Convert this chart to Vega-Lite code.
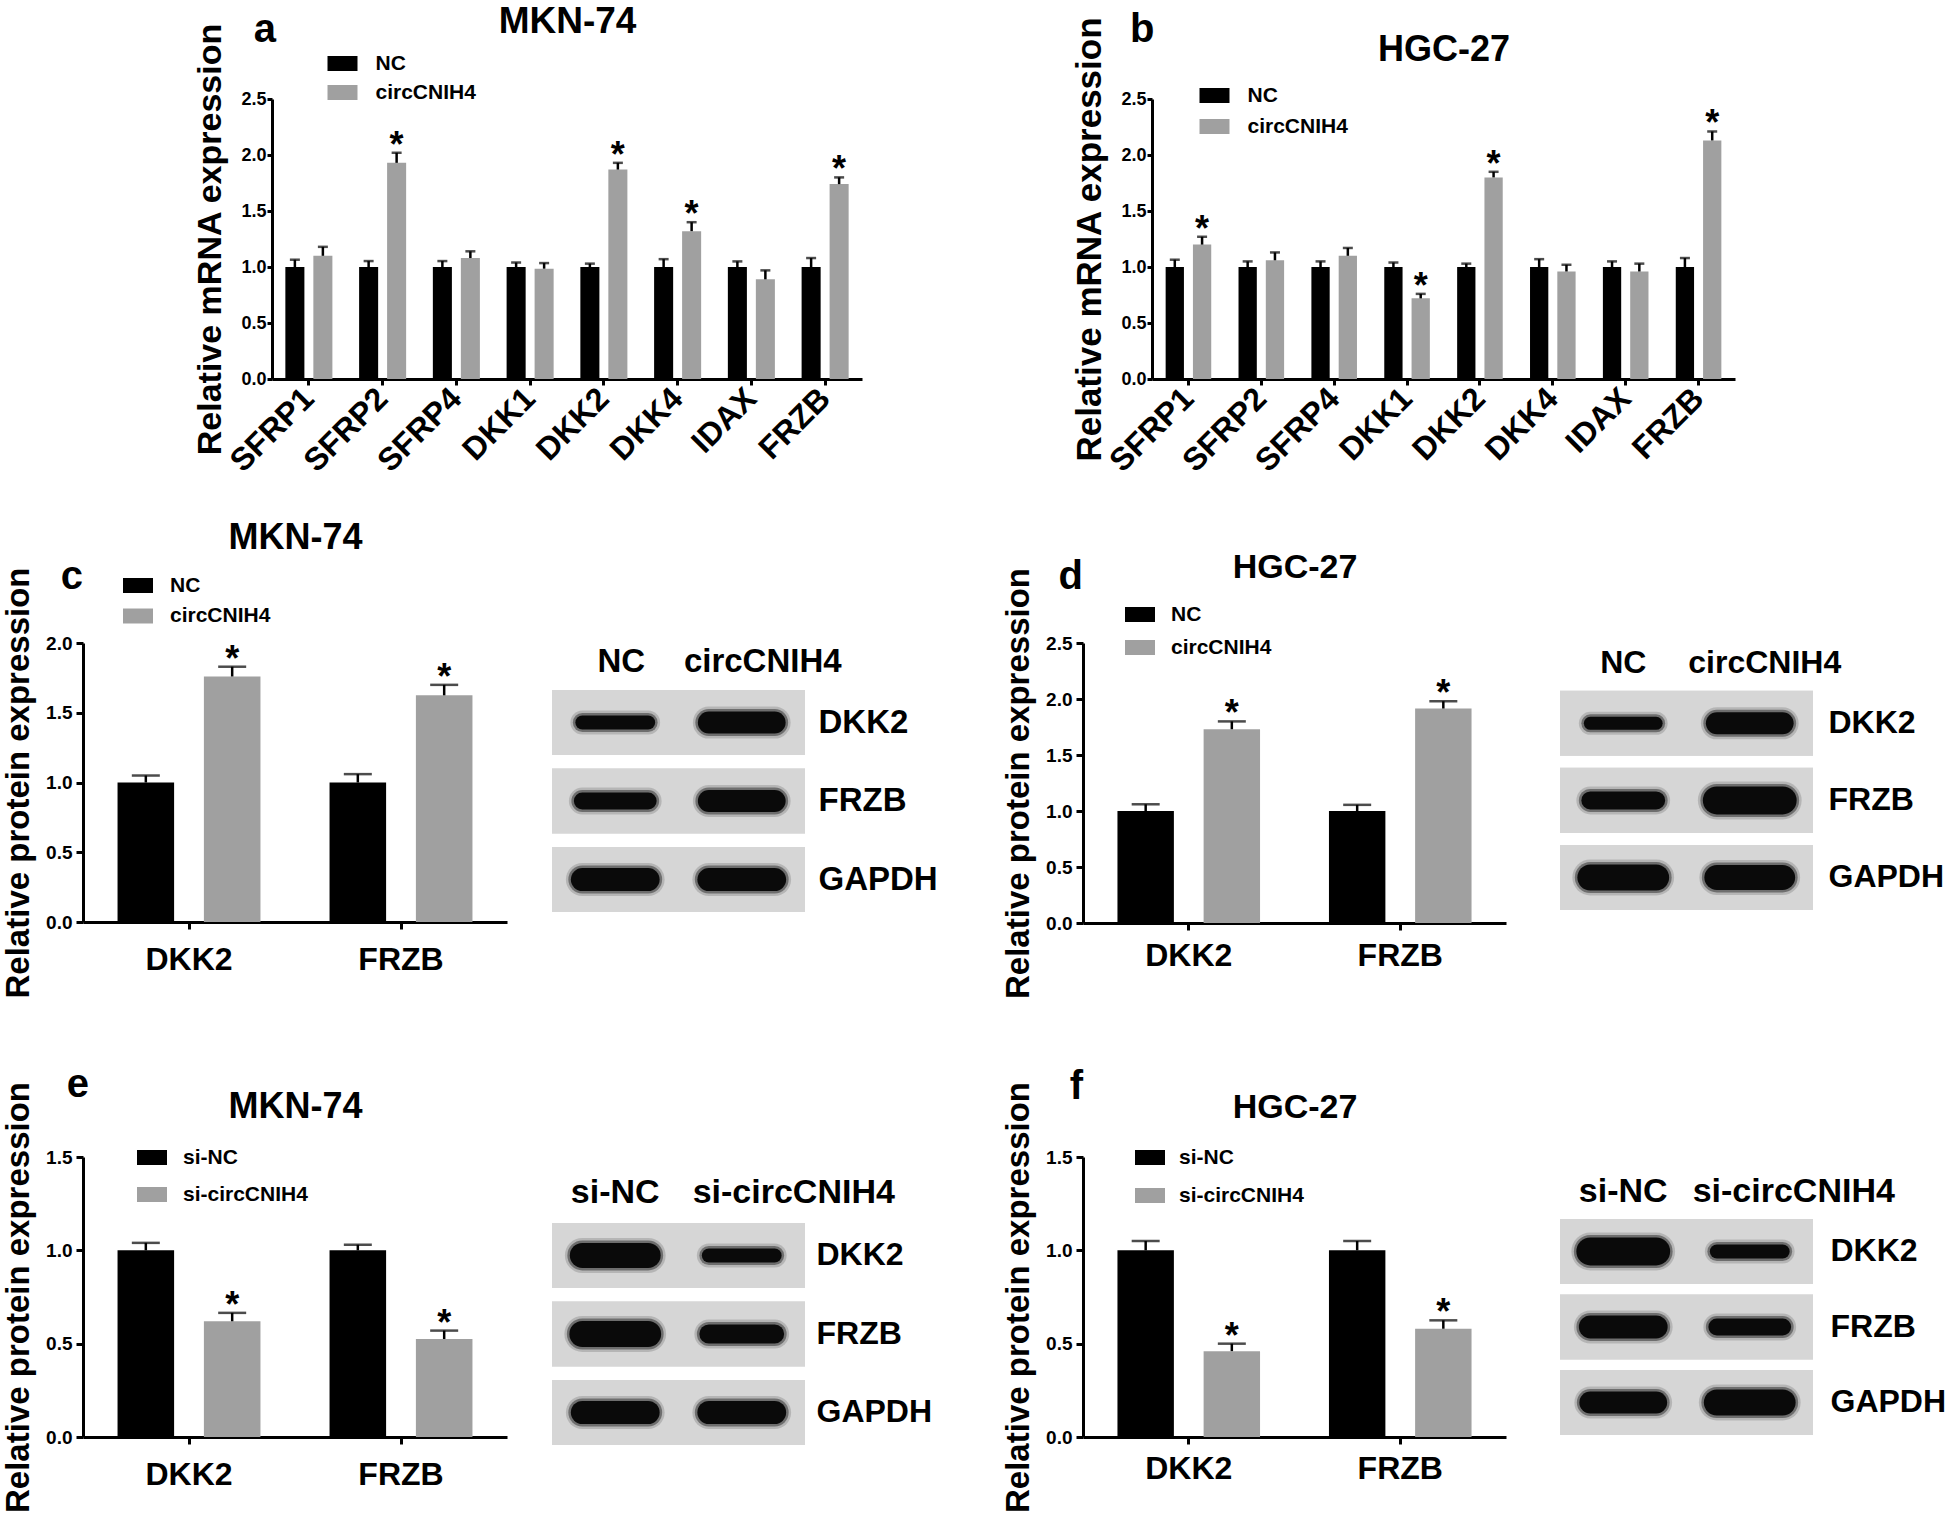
{
"$schema": "https://vega.github.io/schema/vega-lite/v6.json",
"padding": {"left": 0, "top": 2, "right": 0, "bottom": 0},
"background": "white",
"spacing": 0,
"bounds": "full",
"resolve": {"scale": {"color": "independent", "xOffset": "independent", "strokeWidth": "independent"}, "legend": {"color": "independent", "strokeWidth": "independent"}},
"datasets": {
"mknMrna": [
{"gene":"SFRP1","group":"NC","value":1.0,"err":1.065,"sig":""},
{"gene":"SFRP1","group":"circCNIH4","value":1.10,"err":1.18,"sig":""},
{"gene":"SFRP2","group":"NC","value":1.0,"err":1.053,"sig":""},
{"gene":"SFRP2","group":"circCNIH4","value":1.93,"err":2.02,"sig":"*"},
{"gene":"SFRP4","group":"NC","value":1.0,"err":1.053,"sig":""},
{"gene":"SFRP4","group":"circCNIH4","value":1.08,"err":1.14,"sig":""},
{"gene":"DKK1","group":"NC","value":1.0,"err":1.04,"sig":""},
{"gene":"DKK1","group":"circCNIH4","value":0.985,"err":1.035,"sig":""},
{"gene":"DKK2","group":"NC","value":1.0,"err":1.03,"sig":""},
{"gene":"DKK2","group":"circCNIH4","value":1.87,"err":1.93,"sig":"*"},
{"gene":"DKK4","group":"NC","value":1.0,"err":1.07,"sig":""},
{"gene":"DKK4","group":"circCNIH4","value":1.32,"err":1.40,"sig":"*"},
{"gene":"IDAX","group":"NC","value":1.0,"err":1.05,"sig":""},
{"gene":"IDAX","group":"circCNIH4","value":0.89,"err":0.97,"sig":""},
{"gene":"FRZB","group":"NC","value":1.0,"err":1.08,"sig":""},
{"gene":"FRZB","group":"circCNIH4","value":1.74,"err":1.80,"sig":"*"}
],
"hgcMrna": [
{"gene":"SFRP1","group":"NC","value":1.0,"err":1.065,"sig":""},
{"gene":"SFRP1","group":"circCNIH4","value":1.20,"err":1.27,"sig":"*"},
{"gene":"SFRP2","group":"NC","value":1.0,"err":1.05,"sig":""},
{"gene":"SFRP2","group":"circCNIH4","value":1.06,"err":1.13,"sig":""},
{"gene":"SFRP4","group":"NC","value":1.0,"err":1.05,"sig":""},
{"gene":"SFRP4","group":"circCNIH4","value":1.10,"err":1.17,"sig":""},
{"gene":"DKK1","group":"NC","value":1.0,"err":1.04,"sig":""},
{"gene":"DKK1","group":"circCNIH4","value":0.72,"err":0.76,"sig":"*"},
{"gene":"DKK2","group":"NC","value":1.0,"err":1.03,"sig":""},
{"gene":"DKK2","group":"circCNIH4","value":1.80,"err":1.85,"sig":"*"},
{"gene":"DKK4","group":"NC","value":1.0,"err":1.07,"sig":""},
{"gene":"DKK4","group":"circCNIH4","value":0.96,"err":1.02,"sig":""},
{"gene":"IDAX","group":"NC","value":1.0,"err":1.05,"sig":""},
{"gene":"IDAX","group":"circCNIH4","value":0.96,"err":1.03,"sig":""},
{"gene":"FRZB","group":"NC","value":1.0,"err":1.08,"sig":""},
{"gene":"FRZB","group":"circCNIH4","value":2.13,"err":2.21,"sig":"*"}
],
"mknOE": [
{"gene":"DKK2","group":"NC","value":1.0,"err":1.05,"sig":""},
{"gene":"DKK2","group":"circCNIH4","value":1.76,"err":1.83,"sig":"*"},
{"gene":"FRZB","group":"NC","value":1.0,"err":1.06,"sig":""},
{"gene":"FRZB","group":"circCNIH4","value":1.625,"err":1.70,"sig":"*"}
],
"hgcOE": [
{"gene":"DKK2","group":"NC","value":1.0,"err":1.06,"sig":""},
{"gene":"DKK2","group":"circCNIH4","value":1.73,"err":1.80,"sig":"*"},
{"gene":"FRZB","group":"NC","value":1.0,"err":1.055,"sig":""},
{"gene":"FRZB","group":"circCNIH4","value":1.915,"err":1.98,"sig":"*"}
],
"mknKD": [
{"gene":"DKK2","group":"si-NC","value":1.0,"err":1.04,"sig":""},
{"gene":"DKK2","group":"si-circCNIH4","value":0.62,"err":0.665,"sig":"*"},
{"gene":"FRZB","group":"si-NC","value":1.0,"err":1.03,"sig":""},
{"gene":"FRZB","group":"si-circCNIH4","value":0.525,"err":0.57,"sig":"*"}
],
"hgcKD": [
{"gene":"DKK2","group":"si-NC","value":1.0,"err":1.05,"sig":""},
{"gene":"DKK2","group":"si-circCNIH4","value":0.46,"err":0.50,"sig":"*"},
{"gene":"FRZB","group":"si-NC","value":1.0,"err":1.05,"sig":""},
{"gene":"FRZB","group":"si-circCNIH4","value":0.58,"err":0.625,"sig":"*"}
],
"blotC": [
{"lane":"NC","protein":"DKK2","intensity":0.7},
{"lane":"circCNIH4","protein":"DKK2","intensity":1.1},
{"lane":"NC","protein":"FRZB","intensity":0.85},
{"lane":"circCNIH4","protein":"FRZB","intensity":1.1},
{"lane":"NC","protein":"GAPDH","intensity":1.15},
{"lane":"circCNIH4","protein":"GAPDH","intensity":1.15}
],
"blotD": [
{"lane":"NC","protein":"DKK2","intensity":0.65},
{"lane":"circCNIH4","protein":"DKK2","intensity":1.1},
{"lane":"NC","protein":"FRZB","intensity":0.9},
{"lane":"circCNIH4","protein":"FRZB","intensity":1.4},
{"lane":"NC","protein":"GAPDH","intensity":1.3},
{"lane":"circCNIH4","protein":"GAPDH","intensity":1.25}
],
"blotE": [
{"lane":"si-NC","protein":"DKK2","intensity":1.25},
{"lane":"si-circCNIH4","protein":"DKK2","intensity":0.7},
{"lane":"si-NC","protein":"FRZB","intensity":1.3},
{"lane":"si-circCNIH4","protein":"FRZB","intensity":0.95},
{"lane":"si-NC","protein":"GAPDH","intensity":1.15},
{"lane":"si-circCNIH4","protein":"GAPDH","intensity":1.15}
],
"blotF": [
{"lane":"si-NC","protein":"DKK2","intensity":1.4},
{"lane":"si-circCNIH4","protein":"DKK2","intensity":0.7},
{"lane":"si-NC","protein":"FRZB","intensity":1.15},
{"lane":"si-circCNIH4","protein":"FRZB","intensity":0.85},
{"lane":"si-NC","protein":"GAPDH","intensity":1.1},
{"lane":"si-circCNIH4","protein":"GAPDH","intensity":1.3}
],
"none": []
},
"vconcat": [
{
"hconcat": [
{"width":271.5,"height":419.6,"data":{"name":"none"},"mark":"point","encoding":{},
 "title":{"text":"a","anchor":"end","offset":17,"dx":4.5,"fontSize":40,"baseline":"alphabetic"}},
{"width":590,"height":280,"data":{"name":"mknMrna"},
 "encoding":{
  "x":{"field":"gene","type":"nominal","scale":{"domain":["SFRP1","SFRP2","SFRP4","DKK1","DKK2","DKK4","IDAX","FRZB"],"paddingInner":0,"paddingOuter":0},"axis":null},
  "xOffset":{"field":"group","type":"nominal","scale":{"domain":["NC","circCNIH4"],"paddingInner":0.32,"paddingOuter":0.477}}
 },
 "layer":[
  {"mark":{"type":"bar"},
   "encoding":{
    "x":{"field":"gene","type":"nominal","scale":{"domain":["SFRP1","SFRP2","SFRP4","DKK1","DKK2","DKK4","IDAX","FRZB"],"paddingInner":0,"paddingOuter":0},
         "axis":{"title":null,"labelAngle":-45,"labelAlign":"right","labelBaseline":"middle","labelFontSize":32,"tickSize":6,"labelPadding":8}},
    "y":{"field":"value","type":"quantitative","scale":{"domain":[0,2.5],"nice":false},
         "axis":{"title":"Relative mRNA expression","titleFontSize":34,"titlePadding":13,"values":[0,0.5,1,1.5,2,2.5],"format":".1f","labelFontSize":18,"tickSize":5,"labelPadding":1}},
    "color":{"field":"group","type":"nominal","scale":{"domain":["NC","circCNIH4"],"range":["#000000","#a0a0a0"]},
         "legend":{"orient":"none","legendX":55.5,"legendY":-50.5,"title":null,"rowPadding":4,"labelOffset":18,"symbolType":"M-1,-0.5H1V0.5H-1Z","symbolSize":900,"symbolStrokeWidth":0}}
   }},
  {"mark":{"type":"rule","color":"#000000","strokeWidth":2.5},
   "encoding":{"y":{"field":"value","type":"quantitative","scale":{"domain":[0,2.5],"nice":false},
         "axis":{"title":"Relative mRNA expression","titleFontSize":34,"titlePadding":13,"values":[0,0.5,1,1.5,2,2.5],"format":".1f","labelFontSize":18,"tickSize":5,"labelPadding":1}},"y2":{"field":"err"}}},
  {"mark":{"type":"tick","color":"#000000","thickness":2.5,"size":10,"orient":"horizontal"},
   "encoding":{"y":{"field":"err","type":"quantitative","scale":{"domain":[0,2.5],"nice":false},
         "axis":{"title":"Relative mRNA expression","titleFontSize":34,"titlePadding":13,"values":[0,0.5,1,1.5,2,2.5],"format":".1f","labelFontSize":18,"tickSize":5,"labelPadding":1}}}},
  {"transform":[{"filter":"datum.sig == '*'"}],
   "mark":{"type":"text","fontSize":36,"fontWeight":"bold","baseline":"alphabetic","align":"center","dy":4,"color":"#000000"},
   "encoding":{
    "x":{"field":"gene","type":"nominal","scale":{"domain":["SFRP1","SFRP2","SFRP4","DKK1","DKK2","DKK4","IDAX","FRZB"],"paddingInner":0,"paddingOuter":0},
         "axis":{"orient":"top","title":"MKN-74","titleFontSize":37,"titlePadding":67,"titleBaseline":"alphabetic","labels":false,"ticks":false,"domain":false}},
    "y":{"field":"err","type":"quantitative","scale":{"domain":[0,2.5],"nice":false},
         "axis":{"title":"Relative mRNA expression","titleFontSize":34,"titlePadding":13,"values":[0,0.5,1,1.5,2,2.5],"format":".1f","labelFontSize":18,"tickSize":5,"labelPadding":1}},
    "text":{"field":"sig"}}}
 ],
 "resolve":{"axis":{"x":"independent"}}
},
{"width":290,"height":1,"data":{"name":"none"},"mark":"point","encoding":{},
 "title":{"text":"b","anchor":"end","offset":17,"dx":2.5,"fontSize":40,"baseline":"alphabetic"}},
{"width":583,"height":280,"data":{"name":"hgcMrna"},
 "encoding":{
  "x":{"field":"gene","type":"nominal","scale":{"domain":["SFRP1","SFRP2","SFRP4","DKK1","DKK2","DKK4","IDAX","FRZB"],"paddingInner":0,"paddingOuter":0},"axis":null},
  "xOffset":{"field":"group","type":"nominal","scale":{"domain":["NC","circCNIH4"],"paddingInner":0.33,"paddingOuter":0.5}}
 },
 "layer":[
  {"mark":{"type":"bar"},
   "encoding":{
    "x":{"field":"gene","type":"nominal","scale":{"domain":["SFRP1","SFRP2","SFRP4","DKK1","DKK2","DKK4","IDAX","FRZB"],"paddingInner":0,"paddingOuter":0},
         "axis":{"title":null,"labelAngle":-45,"labelAlign":"right","labelBaseline":"middle","labelFontSize":32,"tickSize":6,"labelPadding":8}},
    "y":{"field":"value","type":"quantitative","scale":{"domain":[0,2.5],"nice":false},
         "axis":{"title":"Relative mRNA expression","titleFontSize":35,"titlePadding":13,"values":[0,0.5,1,1.5,2,2.5],"format":".1f","labelFontSize":18,"tickSize":5,"labelPadding":1}},
    "color":{"field":"group","type":"nominal","scale":{"domain":["NC","circCNIH4"],"range":["#000000","#a0a0a0"]},
         "legend":{"orient":"none","legendX":47.5,"legendY":-18.5,"title":null,"rowPadding":6,"labelOffset":18,"symbolType":"M-1,-0.5H1V0.5H-1Z","symbolSize":900,"symbolStrokeWidth":0}}
   }},
  {"mark":{"type":"rule","color":"#000000","strokeWidth":2.5},
   "encoding":{"y":{"field":"value","type":"quantitative","scale":{"domain":[0,2.5],"nice":false},
         "axis":{"title":"Relative mRNA expression","titleFontSize":35,"titlePadding":13,"values":[0,0.5,1,1.5,2,2.5],"format":".1f","labelFontSize":18,"tickSize":5,"labelPadding":1}},"y2":{"field":"err"}}},
  {"mark":{"type":"tick","color":"#000000","thickness":2.5,"size":10,"orient":"horizontal"},
   "encoding":{"y":{"field":"err","type":"quantitative","scale":{"domain":[0,2.5],"nice":false},
         "axis":{"title":"Relative mRNA expression","titleFontSize":35,"titlePadding":13,"values":[0,0.5,1,1.5,2,2.5],"format":".1f","labelFontSize":18,"tickSize":5,"labelPadding":1}}}},
  {"transform":[{"filter":"datum.sig == '*'"}],
   "mark":{"type":"text","fontSize":36,"fontWeight":"bold","baseline":"alphabetic","align":"center","dy":4,"color":"#000000"},
   "encoding":{
    "x":{"field":"gene","type":"nominal","scale":{"domain":["SFRP1","SFRP2","SFRP4","DKK1","DKK2","DKK4","IDAX","FRZB"],"paddingInner":0,"paddingOuter":0},
         "axis":{"orient":"top","title":"HGC-27","titleFontSize":36,"titlePadding":39,"titleBaseline":"alphabetic","labels":false,"ticks":false,"domain":false}},
    "y":{"field":"err","type":"quantitative","scale":{"domain":[0,2.5],"nice":false},
         "axis":{"title":"Relative mRNA expression","titleFontSize":35,"titlePadding":13,"values":[0,0.5,1,1.5,2,2.5],"format":".1f","labelFontSize":18,"tickSize":5,"labelPadding":1}},
    "text":{"field":"sig"}}}
 ],
 "resolve":{"axis":{"x":"independent"}}
}
],
"spacing": 0,
"bounds": "flush",
"resolve": {"scale": {"color": "independent", "xOffset": "independent", "strokeWidth": "independent"}, "legend": {"color": "independent", "strokeWidth": "independent"}}
},
{
"columns": 8,
"spacing": 0,
"bounds": "flush",
"align": "each",
"resolve": {"scale": {"color": "independent", "xOffset": "independent", "strokeWidth": "independent"}, "legend": {"color": "independent", "strokeWidth": "independent"}},
"concat": [
{"width":83,"height":514,"data":{"name":"none"},"mark":"point","encoding":{},
 "title":{"text":"c","anchor":"end","offset":14,"dx":0,"fontSize":40,"baseline":"alphabetic"}},
{"width":424,"height":279,"data":{"name":"mknOE"},
 "encoding":{
  "x":{"field":"gene","type":"nominal","scale":{"domain":["DKK2","FRZB"],"paddingInner":0,"paddingOuter":0},"axis":null},
  "xOffset":{"field":"group","type":"nominal","scale":{"domain":["NC","circCNIH4"],"paddingInner":0.345,"paddingOuter":0.4}}
 },
 "layer":[
  {"mark":{"type":"bar"},
   "encoding":{
    "x":{"field":"gene","type":"nominal","scale":{"domain":["DKK2","FRZB"],"paddingInner":0,"paddingOuter":0},
         "axis":{"title":null,"labelAngle":0,"labelFontSize":32,"tickSize":7,"labelPadding":15}},
    "y":{"field":"value","type":"quantitative","scale":{"domain":[0,2],"nice":false},
         "axis":{"title":"Relative protein expression","titleFontSize":33,"titlePadding":10,"values":[0,0.5,1,1.5,2],"format":".1f","labelFontSize":19,"tickSize":7,"labelPadding":4}},
    "color":{"field":"group","type":"nominal","scale":{"domain":["NC","circCNIH4"],"range":["#000000","#a0a0a0"]},
         "legend":{"orient":"none","legendX":40,"legendY":-72.5,"title":null,"rowPadding":5.5,"labelOffset":17,"symbolType":"M-1,-0.5H1V0.5H-1Z","symbolSize":900,"symbolStrokeWidth":0}}
   }},
  {"mark":{"type":"rule","color":"#000000","strokeWidth":2.5},
   "encoding":{"y":{"field":"value","type":"quantitative","scale":{"domain":[0,2],"nice":false},
         "axis":{"title":"Relative protein expression","titleFontSize":33,"titlePadding":10,"values":[0,0.5,1,1.5,2],"format":".1f","labelFontSize":19,"tickSize":7,"labelPadding":4}},"y2":{"field":"err"}}},
  {"mark":{"type":"tick","color":"#000000","thickness":2.5,"size":28,"orient":"horizontal"},
   "encoding":{"y":{"field":"err","type":"quantitative","scale":{"domain":[0,2],"nice":false},
         "axis":{"title":"Relative protein expression","titleFontSize":33,"titlePadding":10,"values":[0,0.5,1,1.5,2],"format":".1f","labelFontSize":19,"tickSize":7,"labelPadding":4}}}},
  {"transform":[{"filter":"datum.sig == '*'"}],
   "mark":{"type":"text","fontSize":36,"fontWeight":"bold","baseline":"alphabetic","align":"center","dy":4,"color":"#000000"},
   "encoding":{
    "x":{"field":"gene","type":"nominal","scale":{"domain":["DKK2","FRZB"],"paddingInner":0,"paddingOuter":0},
         "axis":{"orient":"top","title":"MKN-74","titleFontSize":36,"titlePadding":95,"titleBaseline":"alphabetic","labels":false,"ticks":false,"domain":false}},
    "y":{"field":"err","type":"quantitative","scale":{"domain":[0,2],"nice":false},
         "axis":{"title":"Relative protein expression","titleFontSize":33,"titlePadding":10,"values":[0,0.5,1,1.5,2],"format":".1f","labelFontSize":19,"tickSize":7,"labelPadding":4}},
    "text":{"field":"sig"}}}
 ],
 "resolve":{"axis":{"x":"independent"}}
},
{"width":45,"height":1,"data":{"name":"none"},"mark":"point","encoding":{}},
{"width":253,"height":269,"data":{"name":"blotC"},
 "encoding":{"y":{"field":"protein","type":"nominal","scale":{"domain":["DKK2","FRZB","GAPDH"],"paddingInner":0.172,"paddingOuter":0.3,"align":1},
   "axis":{"orient":"right","title":null,"ticks":false,"tickSize":0,"domain":false,"labelFontSize":33,"labelPadding":13,"labelAlign":"left","labelBaseline":"middle"}}},
 "layer":[
  {"mark":{"type":"rect","color":"#d6d6d6"}},
  {"mark":{"type":"rule","color":"#6a6a6a","opacity":0.3,"strokeCap":"round"},
   "encoding":{"x":{"field":"lane","type":"nominal","bandPosition":0.24,"scale":{"domain":["NC","circCNIH4"],"paddingInner":0,"paddingOuter":0},
     "axis":{"orient":"top","title":null,"ticks":false,"tickSize":0,"domain":false,"labelAngle":0,"labelAlign":"center","labelFontSize":33,"labelPadding":-28,"labelBaseline":"alphabetic","labelOffset":{"condition":{"test":"datum.value === 'circCNIH4'","value":21},"value":6}}},
    "x2":{"field":"lane","bandPosition":0.76},
    "strokeWidth":{"field":"intensity","type":"quantitative","scale":{"domain":[0,2],"range":[10,50]},"legend":null}}},
  {"mark":{"type":"rule","color":"#333333","opacity":0.55,"strokeCap":"round"},
   "encoding":{"x":{"field":"lane","type":"nominal","bandPosition":0.24,"scale":{"domain":["NC","circCNIH4"],"paddingInner":0,"paddingOuter":0},
     "axis":{"orient":"top","title":null,"ticks":false,"tickSize":0,"domain":false,"labelAngle":0,"labelAlign":"center","labelFontSize":33,"labelPadding":-28,"labelBaseline":"alphabetic","labelOffset":{"condition":{"test":"datum.value === 'circCNIH4'","value":21},"value":6}}},
    "x2":{"field":"lane","bandPosition":0.76},
    "strokeWidth":{"field":"intensity","type":"quantitative","scale":{"domain":[0,2],"range":[5,45]},"legend":null}}},
  {"mark":{"type":"rule","color":"#0a0a0a","strokeCap":"round"},
   "encoding":{"x":{"field":"lane","type":"nominal","bandPosition":0.24,"scale":{"domain":["NC","circCNIH4"],"paddingInner":0,"paddingOuter":0},
     "axis":{"orient":"top","title":null,"ticks":false,"tickSize":0,"domain":false,"labelAngle":0,"labelAlign":"center","labelFontSize":33,"labelPadding":-28,"labelBaseline":"alphabetic","labelOffset":{"condition":{"test":"datum.value === 'circCNIH4'","value":21},"value":6}}},
    "x2":{"field":"lane","bandPosition":0.76},
    "strokeWidth":{"field":"intensity","type":"quantitative","scale":{"domain":[0,2],"range":[0,40]},"legend":null}}}
 ],
 "resolve":{"scale":{"strokeWidth":"independent"}}
},
{"width":278,"height":1,"data":{"name":"none"},"mark":"point","encoding":{},
 "title":{"text":"d","anchor":"end","offset":14,"dx":0,"fontSize":40,"baseline":"alphabetic"}},
{"width":423,"height":280,"data":{"name":"hgcOE"},
 "encoding":{
  "x":{"field":"gene","type":"nominal","scale":{"domain":["DKK2","FRZB"],"paddingInner":0,"paddingOuter":0},"axis":null},
  "xOffset":{"field":"group","type":"nominal","scale":{"domain":["NC","circCNIH4"],"paddingInner":0.345,"paddingOuter":0.4}}
 },
 "layer":[
  {"mark":{"type":"bar"},
   "encoding":{
    "x":{"field":"gene","type":"nominal","scale":{"domain":["DKK2","FRZB"],"paddingInner":0,"paddingOuter":0},
         "axis":{"title":null,"labelAngle":0,"labelFontSize":32,"tickSize":7,"labelPadding":10}},
    "y":{"field":"value","type":"quantitative","scale":{"domain":[0,2.5],"nice":false},
         "axis":{"title":"Relative protein expression","titleFontSize":33,"titlePadding":10,"values":[0,0.5,1,1.5,2,2.5],"format":".1f","labelFontSize":19,"tickSize":7,"labelPadding":4}},
    "color":{"field":"group","type":"nominal","scale":{"domain":["NC","circCNIH4"],"range":["#000000","#a0a0a0"]},
         "legend":{"orient":"none","legendX":42,"legendY":-43.5,"title":null,"rowPadding":8,"labelOffset":16,"symbolType":"M-1,-0.5H1V0.5H-1Z","symbolSize":900,"symbolStrokeWidth":0}}
   }},
  {"mark":{"type":"rule","color":"#000000","strokeWidth":2.5},
   "encoding":{"y":{"field":"value","type":"quantitative","scale":{"domain":[0,2.5],"nice":false},
         "axis":{"title":"Relative protein expression","titleFontSize":33,"titlePadding":10,"values":[0,0.5,1,1.5,2,2.5],"format":".1f","labelFontSize":19,"tickSize":7,"labelPadding":4}},"y2":{"field":"err"}}},
  {"mark":{"type":"tick","color":"#000000","thickness":2.5,"size":28,"orient":"horizontal"},
   "encoding":{"y":{"field":"err","type":"quantitative","scale":{"domain":[0,2.5],"nice":false},
         "axis":{"title":"Relative protein expression","titleFontSize":33,"titlePadding":10,"values":[0,0.5,1,1.5,2,2.5],"format":".1f","labelFontSize":19,"tickSize":7,"labelPadding":4}}}},
  {"transform":[{"filter":"datum.sig == '*'"}],
   "mark":{"type":"text","fontSize":36,"fontWeight":"bold","baseline":"alphabetic","align":"center","dy":4,"color":"#000000"},
   "encoding":{
    "x":{"field":"gene","type":"nominal","scale":{"domain":["DKK2","FRZB"],"paddingInner":0,"paddingOuter":0},
         "axis":{"orient":"top","title":"HGC-27","titleFontSize":34,"titlePadding":66,"titleBaseline":"alphabetic","labels":false,"ticks":false,"domain":false}},
    "y":{"field":"err","type":"quantitative","scale":{"domain":[0,2.5],"nice":false},
         "axis":{"title":"Relative protein expression","titleFontSize":33,"titlePadding":10,"values":[0,0.5,1,1.5,2,2.5],"format":".1f","labelFontSize":19,"tickSize":7,"labelPadding":4}},
    "text":{"field":"sig"}}}
 ],
 "resolve":{"axis":{"x":"independent"}}
},
{"width":54,"height":1,"data":{"name":"none"},"mark":"point","encoding":{}},
{"width":253,"height":267,"data":{"name":"blotD"},
 "encoding":{"y":{"field":"protein","type":"nominal","scale":{"domain":["DKK2","FRZB","GAPDH"],"paddingInner":0.156,"paddingOuter":0.31,"align":1},
   "axis":{"orient":"right","title":null,"ticks":false,"tickSize":0,"domain":false,"labelFontSize":32,"labelPadding":15,"labelAlign":"left","labelBaseline":"middle"}}},
 "layer":[
  {"mark":{"type":"rect","color":"#d6d6d6"}},
  {"mark":{"type":"rule","color":"#6a6a6a","opacity":0.3,"strokeCap":"round"},
   "encoding":{"x":{"field":"lane","type":"nominal","bandPosition":0.24,"scale":{"domain":["NC","circCNIH4"],"paddingInner":0,"paddingOuter":0},
     "axis":{"orient":"top","title":null,"ticks":false,"tickSize":0,"domain":false,"labelAngle":0,"labelAlign":"center","labelFontSize":32,"labelPadding":-29,"labelBaseline":"alphabetic","labelOffset":{"condition":{"test":"datum.value === 'circCNIH4'","value":15},"value":0}}},
    "x2":{"field":"lane","bandPosition":0.76},
    "strokeWidth":{"field":"intensity","type":"quantitative","scale":{"domain":[0,2],"range":[10,50]},"legend":null}}},
  {"mark":{"type":"rule","color":"#333333","opacity":0.55,"strokeCap":"round"},
   "encoding":{"x":{"field":"lane","type":"nominal","bandPosition":0.24,"scale":{"domain":["NC","circCNIH4"],"paddingInner":0,"paddingOuter":0},
     "axis":{"orient":"top","title":null,"ticks":false,"tickSize":0,"domain":false,"labelAngle":0,"labelAlign":"center","labelFontSize":32,"labelPadding":-29,"labelBaseline":"alphabetic","labelOffset":{"condition":{"test":"datum.value === 'circCNIH4'","value":15},"value":0}}},
    "x2":{"field":"lane","bandPosition":0.76},
    "strokeWidth":{"field":"intensity","type":"quantitative","scale":{"domain":[0,2],"range":[5,45]},"legend":null}}},
  {"mark":{"type":"rule","color":"#0a0a0a","strokeCap":"round"},
   "encoding":{"x":{"field":"lane","type":"nominal","bandPosition":0.24,"scale":{"domain":["NC","circCNIH4"],"paddingInner":0,"paddingOuter":0},
     "axis":{"orient":"top","title":null,"ticks":false,"tickSize":0,"domain":false,"labelAngle":0,"labelAlign":"center","labelFontSize":32,"labelPadding":-29,"labelBaseline":"alphabetic","labelOffset":{"condition":{"test":"datum.value === 'circCNIH4'","value":15},"value":0}}},
    "x2":{"field":"lane","bandPosition":0.76},
    "strokeWidth":{"field":"intensity","type":"quantitative","scale":{"domain":[0,2],"range":[0,40]},"legend":null}}}
 ],
 "resolve":{"scale":{"strokeWidth":"independent"}}
},

{"width":83,"height":1,"data":{"name":"none"},"mark":"point","encoding":{},
 "title":{"text":"e","anchor":"end","offset":20,"dx":6,"fontSize":40,"baseline":"alphabetic"}},
{"width":424,"height":280,"data":{"name":"mknKD"},
 "encoding":{
  "x":{"field":"gene","type":"nominal","scale":{"domain":["DKK2","FRZB"],"paddingInner":0,"paddingOuter":0},"axis":null},
  "xOffset":{"field":"group","type":"nominal","scale":{"domain":["si-NC","si-circCNIH4"],"paddingInner":0.345,"paddingOuter":0.4}}
 },
 "layer":[
  {"mark":{"type":"bar"},
   "encoding":{
    "x":{"field":"gene","type":"nominal","scale":{"domain":["DKK2","FRZB"],"paddingInner":0,"paddingOuter":0},
         "axis":{"title":null,"labelAngle":0,"labelFontSize":32,"tickSize":7,"labelPadding":15}},
    "y":{"field":"value","type":"quantitative","scale":{"domain":[0,1.5],"nice":false},
         "axis":{"title":"Relative protein expression","titleFontSize":33,"titlePadding":10,"values":[0,0.5,1,1.5],"format":".1f","labelFontSize":19,"tickSize":7,"labelPadding":4}},
    "color":{"field":"group","type":"nominal","scale":{"domain":["si-NC","si-circCNIH4"],"range":["#000000","#a0a0a0"]},
         "legend":{"orient":"none","legendX":54,"legendY":-14.5,"title":null,"rowPadding":12,"labelOffset":16,"symbolType":"M-1,-0.5H1V0.5H-1Z","symbolSize":900,"symbolStrokeWidth":0}}
   }},
  {"mark":{"type":"rule","color":"#000000","strokeWidth":2.5},
   "encoding":{"y":{"field":"value","type":"quantitative","scale":{"domain":[0,1.5],"nice":false},
         "axis":{"title":"Relative protein expression","titleFontSize":33,"titlePadding":10,"values":[0,0.5,1,1.5],"format":".1f","labelFontSize":19,"tickSize":7,"labelPadding":4}},"y2":{"field":"err"}}},
  {"mark":{"type":"tick","color":"#000000","thickness":2.5,"size":28,"orient":"horizontal"},
   "encoding":{"y":{"field":"err","type":"quantitative","scale":{"domain":[0,1.5],"nice":false},
         "axis":{"title":"Relative protein expression","titleFontSize":33,"titlePadding":10,"values":[0,0.5,1,1.5],"format":".1f","labelFontSize":19,"tickSize":7,"labelPadding":4}}}},
  {"transform":[{"filter":"datum.sig == '*'"}],
   "mark":{"type":"text","fontSize":36,"fontWeight":"bold","baseline":"alphabetic","align":"center","dy":4,"color":"#000000"},
   "encoding":{
    "x":{"field":"gene","type":"nominal","scale":{"domain":["DKK2","FRZB"],"paddingInner":0,"paddingOuter":0},
         "axis":{"orient":"top","title":"MKN-74","titleFontSize":36,"titlePadding":40,"titleBaseline":"alphabetic","labels":false,"ticks":false,"domain":false}},
    "y":{"field":"err","type":"quantitative","scale":{"domain":[0,1.5],"nice":false},
         "axis":{"title":"Relative protein expression","titleFontSize":33,"titlePadding":10,"values":[0,0.5,1,1.5],"format":".1f","labelFontSize":19,"tickSize":7,"labelPadding":4}},
    "text":{"field":"sig"}}}
 ],
 "resolve":{"axis":{"x":"independent"}}
},
{"width":45,"height":1,"data":{"name":"none"},"mark":"point","encoding":{}},
{"width":253,"height":288,"data":{"name":"blotE"},
 "encoding":{"y":{"field":"protein","type":"nominal","scale":{"domain":["DKK2","FRZB","GAPDH"],"paddingInner":0.172,"paddingOuter":0.42,"align":1},
   "axis":{"orient":"right","title":null,"ticks":false,"tickSize":0,"domain":false,"labelFontSize":32,"labelPadding":11,"labelAlign":"left","labelBaseline":"middle"}}},
 "layer":[
  {"mark":{"type":"rect","color":"#d6d6d6"}},
  {"mark":{"type":"rule","color":"#6a6a6a","opacity":0.3,"strokeCap":"round"},
   "encoding":{"x":{"field":"lane","type":"nominal","bandPosition":0.24,"scale":{"domain":["si-NC","si-circCNIH4"],"paddingInner":0,"paddingOuter":0},
     "axis":{"orient":"top","title":null,"ticks":false,"tickSize":0,"domain":false,"labelAngle":0,"labelAlign":"center","labelFontSize":34,"labelPadding":-45,"labelBaseline":"alphabetic","labelOffset":{"condition":{"test":"datum.value === 'si-circCNIH4'","value":52},"value":0}}},
    "x2":{"field":"lane","bandPosition":0.76},
    "strokeWidth":{"field":"intensity","type":"quantitative","scale":{"domain":[0,2],"range":[10,50]},"legend":null}}},
  {"mark":{"type":"rule","color":"#333333","opacity":0.55,"strokeCap":"round"},
   "encoding":{"x":{"field":"lane","type":"nominal","bandPosition":0.24,"scale":{"domain":["si-NC","si-circCNIH4"],"paddingInner":0,"paddingOuter":0},
     "axis":{"orient":"top","title":null,"ticks":false,"tickSize":0,"domain":false,"labelAngle":0,"labelAlign":"center","labelFontSize":34,"labelPadding":-45,"labelBaseline":"alphabetic","labelOffset":{"condition":{"test":"datum.value === 'si-circCNIH4'","value":52},"value":0}}},
    "x2":{"field":"lane","bandPosition":0.76},
    "strokeWidth":{"field":"intensity","type":"quantitative","scale":{"domain":[0,2],"range":[5,45]},"legend":null}}},
  {"mark":{"type":"rule","color":"#0a0a0a","strokeCap":"round"},
   "encoding":{"x":{"field":"lane","type":"nominal","bandPosition":0.24,"scale":{"domain":["si-NC","si-circCNIH4"],"paddingInner":0,"paddingOuter":0},
     "axis":{"orient":"top","title":null,"ticks":false,"tickSize":0,"domain":false,"labelAngle":0,"labelAlign":"center","labelFontSize":34,"labelPadding":-45,"labelBaseline":"alphabetic","labelOffset":{"condition":{"test":"datum.value === 'si-circCNIH4'","value":52},"value":0}}},
    "x2":{"field":"lane","bandPosition":0.76},
    "strokeWidth":{"field":"intensity","type":"quantitative","scale":{"domain":[0,2],"range":[0,40]},"legend":null}}}
 ],
 "resolve":{"scale":{"strokeWidth":"independent"}}
},
{"width":278,"height":1,"data":{"name":"none"},"mark":"point","encoding":{},
 "title":{"text":"f","anchor":"end","offset":18,"dx":0,"fontSize":40,"baseline":"alphabetic"}},
{"width":423,"height":280,"data":{"name":"hgcKD"},
 "encoding":{
  "x":{"field":"gene","type":"nominal","scale":{"domain":["DKK2","FRZB"],"paddingInner":0,"paddingOuter":0},"axis":null},
  "xOffset":{"field":"group","type":"nominal","scale":{"domain":["si-NC","si-circCNIH4"],"paddingInner":0.345,"paddingOuter":0.4}}
 },
 "layer":[
  {"mark":{"type":"bar"},
   "encoding":{
    "x":{"field":"gene","type":"nominal","scale":{"domain":["DKK2","FRZB"],"paddingInner":0,"paddingOuter":0},
         "axis":{"title":null,"labelAngle":0,"labelFontSize":32,"tickSize":7,"labelPadding":9}},
    "y":{"field":"value","type":"quantitative","scale":{"domain":[0,1.5],"nice":false},
         "axis":{"title":"Relative protein expression","titleFontSize":33,"titlePadding":10,"values":[0,0.5,1,1.5],"format":".1f","labelFontSize":19,"tickSize":7,"labelPadding":4}},
    "color":{"field":"group","type":"nominal","scale":{"domain":["si-NC","si-circCNIH4"],"range":["#000000","#a0a0a0"]},
         "legend":{"orient":"none","legendX":52,"legendY":-14.5,"title":null,"rowPadding":13,"labelOffset":14,"symbolType":"M-1,-0.5H1V0.5H-1Z","symbolSize":900,"symbolStrokeWidth":0}}
   }},
  {"mark":{"type":"rule","color":"#000000","strokeWidth":2.5},
   "encoding":{"y":{"field":"value","type":"quantitative","scale":{"domain":[0,1.5],"nice":false},
         "axis":{"title":"Relative protein expression","titleFontSize":33,"titlePadding":10,"values":[0,0.5,1,1.5],"format":".1f","labelFontSize":19,"tickSize":7,"labelPadding":4}},"y2":{"field":"err"}}},
  {"mark":{"type":"tick","color":"#000000","thickness":2.5,"size":28,"orient":"horizontal"},
   "encoding":{"y":{"field":"err","type":"quantitative","scale":{"domain":[0,1.5],"nice":false},
         "axis":{"title":"Relative protein expression","titleFontSize":33,"titlePadding":10,"values":[0,0.5,1,1.5],"format":".1f","labelFontSize":19,"tickSize":7,"labelPadding":4}}}},
  {"transform":[{"filter":"datum.sig == '*'"}],
   "mark":{"type":"text","fontSize":36,"fontWeight":"bold","baseline":"alphabetic","align":"center","dy":4,"color":"#000000"},
   "encoding":{
    "x":{"field":"gene","type":"nominal","scale":{"domain":["DKK2","FRZB"],"paddingInner":0,"paddingOuter":0},
         "axis":{"orient":"top","title":"HGC-27","titleFontSize":34,"titlePadding":40,"titleBaseline":"alphabetic","labels":false,"ticks":false,"domain":false}},
    "y":{"field":"err","type":"quantitative","scale":{"domain":[0,1.5],"nice":false},
         "axis":{"title":"Relative protein expression","titleFontSize":33,"titlePadding":10,"values":[0,0.5,1,1.5],"format":".1f","labelFontSize":19,"tickSize":7,"labelPadding":4}},
    "text":{"field":"sig"}}}
 ],
 "resolve":{"axis":{"x":"independent"}}
},
{"width":54,"height":1,"data":{"name":"none"},"mark":"point","encoding":{}},
{"width":253,"height":278,"data":{"name":"blotF"},
 "encoding":{"y":{"field":"protein","type":"nominal","scale":{"domain":["DKK2","FRZB","GAPDH"],"paddingInner":0.139,"paddingOuter":0.41,"align":1},
   "axis":{"orient":"right","title":null,"ticks":false,"tickSize":0,"domain":false,"labelFontSize":32,"labelPadding":17,"labelAlign":"left","labelBaseline":"middle"}}},
 "layer":[
  {"mark":{"type":"rect","color":"#d6d6d6"}},
  {"mark":{"type":"rule","color":"#6a6a6a","opacity":0.3,"strokeCap":"round"},
   "encoding":{"x":{"field":"lane","type":"nominal","bandPosition":0.24,"scale":{"domain":["si-NC","si-circCNIH4"],"paddingInner":0,"paddingOuter":0},
     "axis":{"orient":"top","title":null,"ticks":false,"tickSize":0,"domain":false,"labelAngle":0,"labelAlign":"center","labelFontSize":34,"labelPadding":-44,"labelBaseline":"alphabetic","labelOffset":{"condition":{"test":"datum.value === 'si-circCNIH4'","value":44},"value":0}}},
    "x2":{"field":"lane","bandPosition":0.76},
    "strokeWidth":{"field":"intensity","type":"quantitative","scale":{"domain":[0,2],"range":[10,50]},"legend":null}}},
  {"mark":{"type":"rule","color":"#333333","opacity":0.55,"strokeCap":"round"},
   "encoding":{"x":{"field":"lane","type":"nominal","bandPosition":0.24,"scale":{"domain":["si-NC","si-circCNIH4"],"paddingInner":0,"paddingOuter":0},
     "axis":{"orient":"top","title":null,"ticks":false,"tickSize":0,"domain":false,"labelAngle":0,"labelAlign":"center","labelFontSize":34,"labelPadding":-44,"labelBaseline":"alphabetic","labelOffset":{"condition":{"test":"datum.value === 'si-circCNIH4'","value":44},"value":0}}},
    "x2":{"field":"lane","bandPosition":0.76},
    "strokeWidth":{"field":"intensity","type":"quantitative","scale":{"domain":[0,2],"range":[5,45]},"legend":null}}},
  {"mark":{"type":"rule","color":"#0a0a0a","strokeCap":"round"},
   "encoding":{"x":{"field":"lane","type":"nominal","bandPosition":0.24,"scale":{"domain":["si-NC","si-circCNIH4"],"paddingInner":0,"paddingOuter":0},
     "axis":{"orient":"top","title":null,"ticks":false,"tickSize":0,"domain":false,"labelAngle":0,"labelAlign":"center","labelFontSize":34,"labelPadding":-44,"labelBaseline":"alphabetic","labelOffset":{"condition":{"test":"datum.value === 'si-circCNIH4'","value":44},"value":0}}},
    "x2":{"field":"lane","bandPosition":0.76},
    "strokeWidth":{"field":"intensity","type":"quantitative","scale":{"domain":[0,2],"range":[0,40]},"legend":null}}}
 ],
 "resolve":{"scale":{"strokeWidth":"independent"}}
}
]
}
],
"config": {
 "view": {"stroke": null},
 "font": "Liberation Sans",
 "axis": {"grid": false, "domainColor": "#000000", "domainWidth": 3, "tickColor": "#000000", "tickWidth": 3,
          "labelColor": "#000000", "titleColor": "#000000", "labelFont": "Liberation Sans", "labelFontWeight": "bold",
          "titleFont": "Liberation Sans", "titleFontWeight": "bold", "labelLimit": 400},
 "legend": {"labelFont": "Liberation Sans", "labelFontWeight": "bold", "labelFontSize": 21, "labelColor": "#000000", "symbolOpacity": 1},
 "title": {"font": "Liberation Sans", "fontWeight": "bold", "color": "#000000"},
 "text": {"font": "Liberation Sans"}
}
}
